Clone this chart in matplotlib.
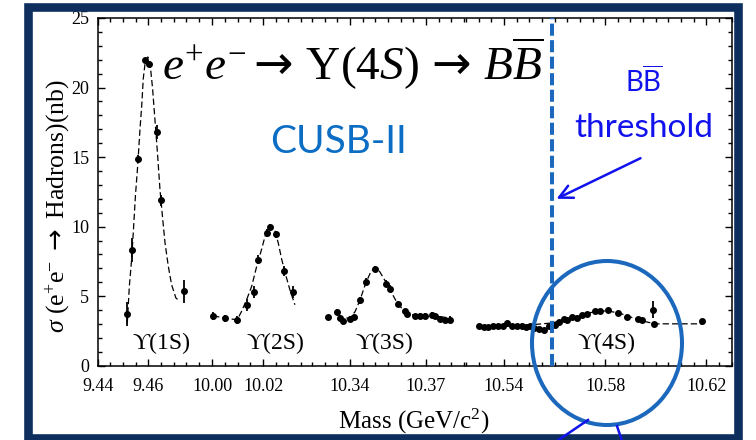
import matplotlib
matplotlib.use("Agg")
import matplotlib.pyplot as plt
from matplotlib.patches import Ellipse, Rectangle
import numpy as np

plt.rcParams['font.family'] = ['Liberation Serif', 'DejaVu Serif']
plt.rcParams['mathtext.fontset'] = 'custom'
plt.rcParams['mathtext.rm'] = 'Liberation Serif'
plt.rcParams['mathtext.it'] = 'Liberation Serif:italic'
plt.rcParams['mathtext.sf'] = 'Lato'
plt.rcParams['mathtext.tt'] = 'DejaVu Sans'

# measured points (mass GeV, sigma nb, error nb) for each resonance scan
m_1s = [9.4515, 9.4536, 9.4560, 9.4587, 9.4604, 9.4633, 9.4650, 9.4741]
s_1s = [3.71, 8.30, 14.85, 21.95, 21.71, 16.78, 11.89, 5.34]
e_1s = [0.85, 0.85, 0.30, 0.20, 0.20, 0.50, 0.40, 0.85]

m_2s = [10.0003, 10.0049, 10.0098, 10.0135, 10.0165, 10.0179, 10.0214, 10.0227,
        10.0251, 10.0283, 10.0319]
s_2s = [3.59, 3.42, 3.30, 4.38, 5.27, 7.63, 9.56, 9.99, 9.44, 6.79, 5.30]
e_2s = [0.30, 0.25, 0.30, 0.42, 0.43, 0.32, 0.30, 0.20, 0.25, 0.35, 0.40]

m_3s = [10.3312, 10.3350, 10.3360, 10.3374, 10.3400, 10.3417, 10.3440, 10.3463,
        10.3499, 10.3541, 10.3558, 10.3589, 10.3617, 10.3624, 10.3657, 10.3677,
        10.3696, 10.3723, 10.3736, 10.3756, 10.3775, 10.3795]
s_3s = [3.47, 3.86, 3.42, 3.23, 3.35, 3.47, 4.69, 6.02, 6.96, 5.88, 5.54, 4.43,
        3.90, 3.71, 3.54, 3.59, 3.59, 3.66, 3.54, 3.37, 3.30, 3.30]
e_3s = [0.20, 0.25, 0.20, 0.20, 0.20, 0.20, 0.25, 0.25, 0.20, 0.25, 0.25, 0.20,
        0.20, 0.20, 0.20, 0.20, 0.20, 0.20, 0.20, 0.20, 0.20, 0.25]

m_4s = [10.5302, 10.5321, 10.5338, 10.5358, 10.5377, 10.5397, 10.5413, 10.5430,
        10.5450, 10.5470, 10.5487, 10.5503, 10.5519, 10.5538, 10.5558, 10.5579,
        10.5602, 10.5619, 10.5637, 10.5651, 10.5668, 10.5690, 10.5709, 10.5729,
        10.5760, 10.5779, 10.5812, 10.5849, 10.5885, 10.5931, 10.5944, 10.5990,
        10.5994, 10.6181]
s_4s = [2.82, 2.77, 2.77, 2.82, 2.87, 2.82, 3.06, 2.87, 2.82, 2.89, 2.77, 2.82,
        2.70, 2.63, 2.58, 2.82, 2.94, 3.13, 3.37, 3.30, 3.49, 3.42, 3.61, 3.73,
        3.90, 3.95, 4.02, 3.78, 3.47, 3.37, 3.30, 4.02, 2.99, 3.23]
e_4s = [0.15] * 31 + [0.60, 0.15, 0.15]

# dashed fit curves
fm_1s = [9.4517, 9.4525, 9.4534, 9.4541, 9.4549, 9.4558, 9.4567, 9.4574, 9.4580,
         9.4587, 9.4598, 9.4607, 9.4617, 9.4626, 9.4636, 9.4646, 9.4657, 9.4666,
         9.4679, 9.4692, 9.4709, 9.4725]
fs_1s = [3.08, 5.70, 7.63, 9.68, 12.20, 14.37, 16.97, 18.70, 20.63, 21.71, 22.20,
         21.71, 19.91, 17.74, 15.34, 12.69, 10.52, 8.84, 7.15, 5.83, 4.87, 4.62]

fm_2s = [10.0003, 10.0049, 10.0098, 10.0115, 10.0135, 10.0155, 10.0175, 10.0194,
         10.0208, 10.0221, 10.0234, 10.0247, 10.0260, 10.0274, 10.0291, 10.0306,
         10.0326]
fs_2s = [3.59, 3.42, 3.30, 3.90, 4.74, 5.70, 7.15, 8.35, 9.31, 9.92, 10.04, 9.68,
         8.84, 7.63, 6.43, 5.47, 4.38]

fm_3s = [10.3349, 10.3400, 10.3420, 10.3440, 10.3463, 10.3483, 10.3499, 10.3515,
         10.3534, 10.3558, 10.3586, 10.3613, 10.3645, 10.3696, 10.3756, 10.3795]
fs_3s = [3.37, 3.44, 3.88, 4.74, 5.97, 6.77, 7.05, 6.84, 6.26, 5.47, 4.53, 3.95,
         3.66, 3.59, 3.52, 3.44]

fm_4s = [10.5300, 10.5450, 10.5594, 10.5641, 10.5692, 10.5748, 10.5807, 10.5858,
         10.5910, 10.5961, 10.5996, 10.6096, 10.6183]
fs_4s = [2.85, 2.85, 3.08, 3.37, 3.59, 3.84, 3.95, 3.77, 3.44, 3.16, 3.01, 3.01,
         3.01]

res_names = ['\u03d2(1S)', '\u03d2(2S)', '\u03d2(3S)', '\u03d2(4S)']
res_pos = [9.465, 10.0247, 10.3538, 10.5803]

major_ticks = [9.44, 9.46, 10.00, 10.02, 10.34, 10.37, 10.54, 10.58, 10.62]
bb_threshold = 10.559

# broken mass axis: shown windows
seg_lo = [9.44, 9.99506, 10.32261, 10.52458]
seg_hi = [9.4804, 10.03696, 10.38545, 10.63]

xp, fp = [], []
u = 0.0
for lo, hi in zip(seg_lo, seg_hi):
    xp += [lo, hi]
    fp += [u, u + (hi - lo)]
    u += (hi - lo) + 1e-7
xp = np.array(xp)
fp = np.array(fp)


def fwd(m):
    return np.interp(m, xp, fp)


def inv(v):
    return np.interp(v, fp, xp)


fig = plt.figure(figsize=(7.56, 4.4), dpi=100)
W, H = 756, 440
ax = fig.add_axes([97.7 / W, 1 - 365.7 / H, 634 / W, 347.7 / H])
ax.set_xscale('function', functions=(fwd, inv))
ax.set_xlim(seg_lo[0], seg_hi[-1])
ax.set_ylim(0, 25)

for fm, fs in [(fm_1s, fs_1s), (fm_2s, fs_2s), (fm_3s, fs_3s), (fm_4s, fs_4s)]:
    ax.plot(fm, fs, color='k', lw=0.9, dashes=(5, 2.5))
for m, s, e in [(m_1s, s_1s, e_1s), (m_2s, s_2s, e_2s), (m_3s, s_3s, e_3s), (m_4s, s_4s, e_4s)]:
    ax.errorbar(m, s, yerr=e, fmt='o', ms=4, color='k', elinewidth=1.3, capsize=0)

for name, pos in zip(res_names, res_pos):
    ax.text(pos, 1.57, name, ha='center', va='center', fontsize=17,
            family=['Liberation Serif', 'DejaVu Serif'])

ax.axvline(bb_threshold, color='#1b68bd', lw=2.9, dashes=(3, 1.1), zorder=4)

minor = []
for lo, hi in zip(seg_lo, seg_hi):
    minor += list(np.round(np.arange(np.ceil(lo / 0.005) * 0.005, hi, 0.005), 3))
ax.set_xticks(major_ticks)
ax.set_xticklabels(['%.2f' % t for t in major_ticks])
ax.set_xticks(minor, minor=True)
ax.set_yticks(range(0, 26, 5))
ax.set_yticks(range(0, 26), minor=True)
ax.tick_params(which='both', direction='in', top=True, right=True, width=1.0,
               labelsize=13)
ax.tick_params(which='major', length=5)
ax.tick_params(which='minor', length=3)
ax.tick_params(axis='x', pad=9)
ax.tick_params(axis='y', pad=6)
for sp in ax.spines.values():
    sp.set_linewidth(1.1)

# overlay for annotations in pixel coordinates
ov = fig.add_axes([0, 0, 1, 1], zorder=5)
ov.set_xlim(0, W)
ov.set_ylim(H, 0)
ov.axis('off')
ov.patch.set_alpha(0)

ov.text(58, 206, r'$\sigma$ (e$^{+}$e$^{-}$ $\mathtt{\rightarrow}$ Hadrons)(nb)', rotation=90,
        ha='center', va='center', fontsize=18.5)
ov.text(414, 421, 'Mass (GeV/c$^{2}$)', ha='center', va='center', fontsize=18)

ov.text(353, 80, r'$e^{+}e^{-}\mathtt{\rightarrow}\,\Upsilon(4S)\,\mathtt{\rightarrow}\,B\overline{B}$',
        ha='center', va='baseline', fontsize=34)
ov.text(339, 153, 'CUSB-II', ha='center', va='baseline', fontsize=28,
        family='Lato', color='#0b6dc4')
ov.text(644, 92, r'$\mathsf{B\overline{B}}$', ha='center', va='baseline',
        fontsize=20, color='#1212ec')
ov.text(644, 137, 'threshold', ha='center', va='baseline', fontsize=24,
        family='Lato', color='#1212ec')
ov.annotate('', xy=(554, 200), xytext=(643, 157),
            arrowprops=dict(arrowstyle='->', color='#1212ec', lw=1.8, mutation_scale=24))

ov.add_patch(Ellipse((607, 343), 150, 164, fill=False, ec='#1b68bd', lw=2.9))
ov.plot([588, 557], [420, 441], color='#1212ec', lw=1.8)
ov.plot([617, 622], [426, 441], color='#1212ec', lw=1.8)

ov.add_patch(Rectangle((28, 7.5), 709.5, 430.5, fill=False, ec='#0e2f5e', lw=6.2))

fig.savefig('out.png', dpi=100)
